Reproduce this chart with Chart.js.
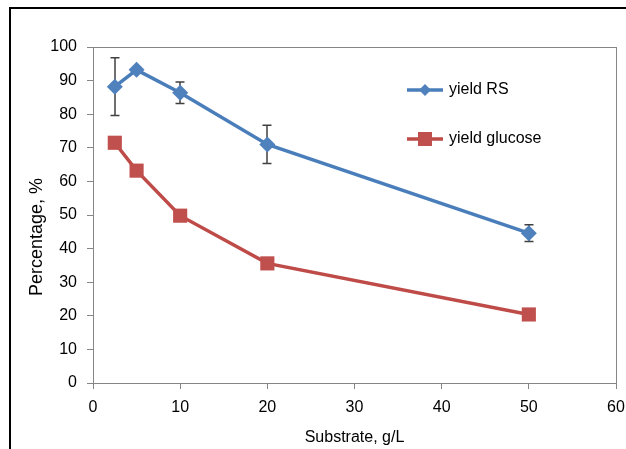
<!DOCTYPE html>
<html lang="en">
<head>
<meta charset="utf-8">
<title>Yield vs substrate</title>
<script src="https://cdn.jsdelivr.net/npm/chart.js"></script>
<style>
  body { margin: 0; background: #fff; }
  #wrap { position: relative; width: 626px; height: 449px; }
</style>
</head>
<body>
<div id="wrap"><canvas id="myChart" width="626" height="449"></canvas></div>
<script>
  // data
  const substrate = [2.5, 5, 10, 20, 50];          // g/L
  const yieldRS = [88.2, 93.2, 86.4, 71.0, 44.6];   // %
  const rsError = [8.6, 0, 3.2, 5.7, 2.5];          // +/- for yield RS
  const yieldGlucose = [71.5, 63.2, 49.8, 35.6, 20.4];
  const seriesNames = ['yield RS', 'yield glucose'];
  const xTicks = [0, 10, 20, 30, 40, 50, 60];
  const yTicks = [0, 10, 20, 30, 40, 50, 60, 70, 80, 90, 100];
  const yTitle = 'Percentage, %';

  const blue = '#4A7EBB', blueFill = '#4F81BD';
  const red = '#BE4B48', redFill = '#C0504D';
  const axisGray = '#868686';
  const fontFamily = '"Liberation Sans", Arial, sans-serif';

  const toPoints = (ys) => substrate.map((s, i) => ({ x: s, y: ys[i] }));

  // white page + black frame on top and left, plot box, y title
  const frame = {
    id: 'frame',
    beforeDraw(chart) {
      const { ctx } = chart;
      ctx.save();
      ctx.fillStyle = '#fff';
      ctx.fillRect(0, 0, chart.width, chart.height);
      ctx.fillStyle = '#000';
      ctx.fillRect(9, 7, chart.width - 9, 2);
      ctx.fillRect(9, 7, 2, chart.height - 7);
      ctx.restore();
    },
    afterDraw(chart) {
      const { ctx, chartArea } = chart;
      ctx.save();
      ctx.strokeStyle = axisGray;
      ctx.lineWidth = 1;
      ctx.strokeRect(chartArea.left + 0.5, chartArea.top + 0.5,
        chartArea.right - chartArea.left, chartArea.bottom - chartArea.top);
      // y axis title sits a bit below the middle, as in the original
      ctx.translate(37, chartArea.top + 190);
      ctx.rotate(-Math.PI / 2);
      ctx.fillStyle = '#000';
      ctx.font = '18px ' + fontFamily;
      ctx.textAlign = 'center';
      ctx.textBaseline = 'middle';
      ctx.fillText(yTitle, 0, 0);
      ctx.restore();
    }
  };

  const errorBars = {
    id: 'errorBars',
    beforeDatasetsDraw(chart) {
      const { ctx, scales: { x, y } } = chart;
      ctx.save();
      ctx.strokeStyle = '#404040';
      ctx.lineWidth = 1.5;
      substrate.forEach((s, i) => {
        if (!rsError[i]) return;
        const px = Math.round(x.getPixelForValue(s));
        const top = y.getPixelForValue(yieldRS[i] + rsError[i]);
        const bot = y.getPixelForValue(yieldRS[i] - rsError[i]);
        ctx.beginPath();
        ctx.moveTo(px, top); ctx.lineTo(px, bot);
        ctx.moveTo(px - 4.5, top); ctx.lineTo(px + 4.5, top);
        ctx.moveTo(px - 4.5, bot); ctx.lineTo(px + 4.5, bot);
        ctx.stroke();
      });
      ctx.restore();
    }
  };

  // legend drawn inside the plot like the Excel one: line + marker + text
  const lineLegend = {
    id: 'lineLegend',
    afterDraw(chart) {
      const { ctx, chartArea } = chart;
      const x0 = chartArea.left + 314;
      const rows = [chartArea.top + 43, chartArea.top + 92];
      ctx.save();
      chart.data.datasets.forEach((ds, i) => {
        const yy = rows[i];
        ctx.strokeStyle = ds.borderColor;
        ctx.lineWidth = 3.5;
        ctx.beginPath();
        ctx.moveTo(x0, yy); ctx.lineTo(x0 + 36, yy);
        ctx.stroke();
        ctx.fillStyle = ds.pointBackgroundColor;
        const cx = x0 + 18;
        ctx.beginPath();
        if (ds.pointStyle === 'rectRot') {
          const r = 6;
          ctx.moveTo(cx - r, yy); ctx.lineTo(cx, yy - r);
          ctx.lineTo(cx + r, yy); ctx.lineTo(cx, yy + r);
        } else {
          const h = 7;
          ctx.rect(cx - h, yy - h, 2 * h, 2 * h);
        }
        ctx.closePath();
        ctx.fill();
        ctx.fillStyle = '#000';
        ctx.font = '16px ' + fontFamily;
        ctx.textBaseline = 'middle';
        ctx.fillText(ds.label, x0 + 42, yy);
      });
      ctx.restore();
    }
  };

  const ctx = document.getElementById('myChart').getContext('2d');
  const myChart = new Chart(ctx, {
    type: 'line',
    data: {
      datasets: [
        {
          label: seriesNames[0],
          data: toPoints(yieldRS),
          borderColor: blue,
          backgroundColor: blueFill,
          pointBackgroundColor: blueFill,
          pointBorderColor: blueFill,
          borderWidth: 3.5,
          pointStyle: 'rectRot',
          pointRadius: 8,
          pointBorderWidth: 0,
          tension: 0
        },
        {
          label: seriesNames[1],
          data: toPoints(yieldGlucose),
          borderColor: red,
          backgroundColor: redFill,
          pointBackgroundColor: redFill,
          pointBorderColor: redFill,
          borderWidth: 3.5,
          pointStyle: 'rect',
          pointRadius: 10,
          pointBorderWidth: 0,
          tension: 0
        }
      ]
    },
    options: {
      responsive: false,
      devicePixelRatio: 1,
      animation: false,
      layout: { padding: { left: 0, right: 10, top: 47, bottom: 0 } },
      plugins: {
        legend: { display: false },
        tooltip: { enabled: false }
      },
      scales: {
        x: {
          type: 'linear',
          min: 0, max: 60,
          afterBuildTicks: (s) => { s.ticks = xTicks.map(v => ({ value: v })); },
          afterFit: (s) => { s.height = 66; s.paddingLeft = 0; s.paddingRight = 0; },
          grid: { drawOnChartArea: false, color: axisGray, tickLength: 6 },
          border: { color: axisGray },
          ticks: {
            color: '#000', padding: 9,
            font: { family: fontFamily, size: 16 }
          },
          title: {
            display: true, text: 'Substrate, g/L', color: '#000',
            padding: { top: 0, bottom: 2 },
            font: { family: fontFamily, size: 16 }
          }
        },
        y: {
          min: 0, max: 100,
          afterBuildTicks: (s) => { s.ticks = yTicks.map(v => ({ value: v })); },
          afterFit: (s) => { s.width = 93; s.paddingTop = 0; s.paddingBottom = 0; },
          grid: { drawOnChartArea: false, color: axisGray, tickLength: 6 },
          border: { color: axisGray },
          ticks: {
            color: '#000', padding: 10,
            font: { family: fontFamily, size: 16 }
          }
        }
      }
    },
    plugins: [frame, errorBars, lineLegend]
  });
</script>
</body>
</html>
